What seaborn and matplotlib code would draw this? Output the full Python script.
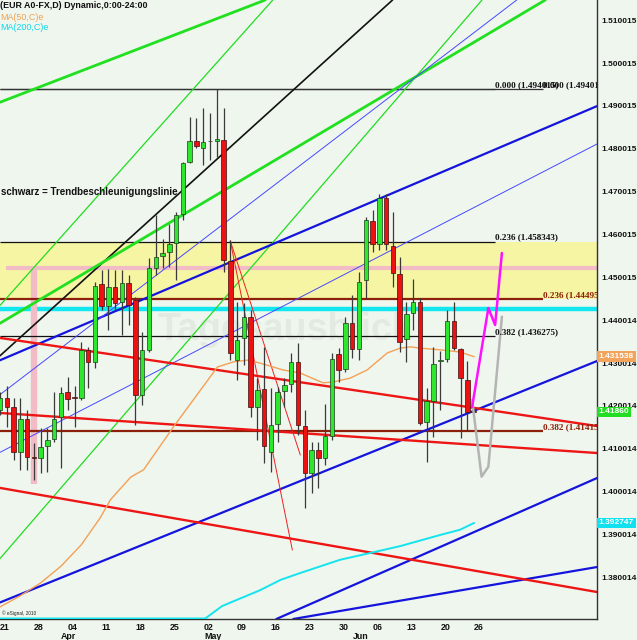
import numpy as np
import matplotlib
matplotlib.use("Agg")
import matplotlib.pyplot as plt
import matplotlib.transforms as mtransforms
import seaborn as sns

sns.set_theme(style="white")
plt.rcParams["font.family"] = ["Liberation Sans", "DejaVu Sans"]

BG = "#eff6ee"

# daily candles, index 0 = Mon 21 Mar
opens = [1.41906, 1.42186, 1.41976, 1.40925, 1.41695, 1.40808, 1.40785, 1.41065, 1.41228, 1.41742,
         1.42326, 1.42209, 1.42186, 1.43306, 1.43026, 1.44847, 1.44333, 1.44777, 1.44426, 1.44870,
         1.44473, 1.42256, 1.43306, 1.45220, 1.45500, 1.45593, 1.45803, 1.46480, 1.47694, 1.48184,
         1.48021, 1.48184, 1.48184, 1.48207, 1.45383, 1.43073, 1.43586, 1.44077, 1.41976, 1.42396,
         1.40925, 1.41579, 1.42349, 1.42513, 1.43026, 1.41532, 1.40435, 1.40972, 1.40785, 1.41298,
         1.43213, 1.42863, 1.43936, 1.43329, 1.44940, 1.46317, 1.45780, 1.46854, 1.45733, 1.45080,
         1.43563, 1.44170, 1.44426, 1.41625, 1.42116, 1.43049, 1.43096, 1.43983, 1.43329, 1.42606,
         1.41882]
highs = [1.42326, 1.42466, 1.42186, 1.42186, 1.41906, 1.41135, 1.41485, 1.41485, 1.42326, 1.42442,
         1.42676, 1.42466, 1.43492, 1.43376, 1.44893, 1.45173, 1.45196, 1.45173, 1.45173, 1.45057,
         1.44543, 1.43726, 1.45453, 1.46457, 1.45897, 1.46247, 1.46527, 1.47694, 1.48744, 1.48721,
         1.48954, 1.48838, 1.49400, 1.48954, 1.45873, 1.44426, 1.44403, 1.44240, 1.42653, 1.43376,
         1.42419, 1.42442, 1.42653, 1.43236, 1.43469, 1.41906, 1.41158, 1.41158, 1.42046, 1.43236,
         1.43353, 1.44077, 1.44590, 1.45127, 1.46410, 1.46574, 1.46947, 1.46947, 1.46527, 1.45477,
         1.44426, 1.44963, 1.44520, 1.42419, 1.43376, 1.43283, 1.44240, 1.44426, 1.43353, 1.43049,
         1.41952]
lows = [1.41789, 1.41509, 1.40739, 1.40505, 1.40505, 1.40272, 1.40435, 1.40458, 1.41158, 1.40552,
        1.41906, 1.41509, 1.42139, 1.42419, 1.42886, 1.44240, 1.43773, 1.44240, 1.43656, 1.43890,
        1.41555, 1.42022, 1.43259, 1.45057, 1.45220, 1.45243, 1.44940, 1.46340, 1.47671, 1.48021,
        1.47624, 1.47741, 1.47811, 1.45127, 1.43073, 1.42606, 1.42956, 1.41742, 1.41205, 1.40669,
        1.40458, 1.41158, 1.41976, 1.42326, 1.41322, 1.39618, 1.39968, 1.40085, 1.40622, 1.41205,
        1.42559, 1.42793, 1.43119, 1.43073, 1.44520, 1.45593, 1.45640, 1.45640, 1.44777, 1.43259,
        1.43026, 1.43773, 1.41555, 1.40692, 1.41275, 1.41906, 1.43026, 1.43306, 1.41252, 1.41415,
        1.41859]
closes = [1.42186, 1.41976, 1.40925, 1.41695, 1.40808, 1.40785, 1.41042, 1.41205, 1.41695, 1.42302,
          1.42162, 1.42186, 1.43306, 1.43026, 1.44800, 1.44333, 1.44777, 1.44403, 1.44870, 1.44356,
          1.42256, 1.43306, 1.45220, 1.45477, 1.45570, 1.45780, 1.46457, 1.47671, 1.48184, 1.48067,
          1.48161, 1.48190, 1.48231, 1.45407, 1.43236, 1.43539, 1.44077, 1.41976, 1.42372, 1.41065,
          1.41555, 1.42326, 1.42489, 1.43026, 1.41555, 1.40435, 1.40972, 1.40785, 1.41298, 1.43096,
          1.42839, 1.43936, 1.43329, 1.44893, 1.46340, 1.45780, 1.46854, 1.45780, 1.45103, 1.43492,
          1.44147, 1.44426, 1.41602, 1.42116, 1.42979, 1.43073, 1.43983, 1.43353, 1.42653, 1.41859,
          1.41860]

# moving averages (bar position, value)
ma50_x = [0, 3, 6, 9, 12, 14.8, 16.3, 19.3, 21.2, 25.6, 29.6, 32.1, 34.5, 36.5, 38.4, 41.8, 44.3,
          47.7, 49.2, 51.7, 54.2, 57.2, 59.1, 60.6, 62.0, 65.0, 67.9, 70.0]
ma50_y = [1.3731, 1.3757, 1.3787, 1.3826, 1.3876, 1.3939, 1.3981, 1.4034, 1.4051, 1.4151, 1.4237,
          1.4291, 1.4303, 1.4307, 1.4300, 1.4284, 1.4277, 1.4254, 1.4256, 1.4265, 1.4284, 1.4324,
          1.4335, 1.4338, 1.4335, 1.4331, 1.4326, 1.4315]
ma200_x = [0, 30.3, 32.8, 34.9, 38.4, 41.4, 44.3, 50.2, 54.7, 59.1, 65.0, 67.9, 70.0]
ma200_y = [1.3704, 1.3704, 1.3733, 1.3747, 1.3770, 1.3794, 1.3810, 1.3841, 1.3857, 1.3873, 1.3899,
           1.3911, 1.3927]

# forecast sketches
up_path_x = [69.7, 72.1, 73.1, 74.1]
up_path_y = [1.41976, 1.44286, 1.43890, 1.45570]
down_path_x = [69.7, 71.1, 72.1, 74.1]
down_path_y = [1.42139, 1.40349, 1.40582, 1.44083]

# trend lines, two points each (bar, price)
black_trend = [(7.46, 1.44240), (43.30, 1.49375)]
green_thin = [[(5.99, 1.45407), (28.41, 1.49375)],
              [(7.46, 1.39805), (35.49, 1.44940)]]
green_thick = [[(0.09, 1.49094), (29.59, 1.50892)],
               [(66.8, 1.50191), (80.5, 1.51475)]]
blue_thick = [[(0.09, 1.43073), (88.14, 1.48999)],
              [(37.4, 1.39805), (88.14, 1.43049)],
              [(40.8, 1.37028), (88.14, 1.40318)],
              [(43.30, 1.37028), (88.14, 1.38241)]]
blue_thin = [[(0.09, 1.40925), (88.14, 1.48114)],
             [(21.77, 1.44893), (47.29, 1.47974)]]
red_thick = [[(0.09, 1.43586), (88.14, 1.41532)],
             [(0.09, 1.41836), (88.14, 1.40902)],
             [(0.09, 1.40085), (88.14, 1.37658)]]
red_thin = [[(34.0, 1.45850), (43.16, 1.38638)],
            [(34.0, 1.45850), (44.34, 1.40855)]]

# fibonacci retracements
black_fib = [1.494015, 1.458343, 1.436275]
black_fib_txt = ["0.000 (1.494015)", "0.236 (1.458343)", "0.382 (1.436275)"]
brown_fib = [1.494015, 1.44495, 1.41415]
brown_fib_txt = ["0.000 (1.494015)", "0.236 (1.444950)", "0.382 (1.414150)"]

pink_level = 1.45220
cyan_level = 1.44263

date_labels = ["21", "28", "04", "11", "18", "25", "02", "09", "16", "23", "30", "06", "13", "20", "26"]
month_labels = ["Apr", "May", "Jun"]
month_pos = [10.1, 31.4, 53.2]

axis_levels = [1.510015, 1.500015, 1.490015, 1.480015, 1.470015, 1.460015, 1.450015,
               1.440014, 1.430014, 1.420014, 1.410014, 1.400014, 1.390014, 1.380014]
axis_labels = ["%.6f" % v for v in axis_levels]
tag_values = [1.431538, 1.41860, 1.392747]
tag_text = ["1.431538", "1.41860", "1.392747"]
tag_colors = ["#f2a35c", "#22dd22", "#11e0ee"]

fig = plt.figure(figsize=(6.37, 6.40), dpi=100, facecolor=BG)
ax = fig.add_axes([0, 21 / 640, 597 / 637, 619 / 640], facecolor=BG)
ax.set_xlim(0.09, 88.14)
ax.set_ylim(1.37028, 1.51475)

# background zones
ax.axhspan(brown_fib[1], black_fib[1], color="#f6f5a4", zorder=0, lw=0)
ax.text(42.1, 1.4377, "Tagesausblick", fontsize=27, weight="bold", color="#e2eae1",
        ha="center", va="center", zorder=0.5)
ax.axhline(cyan_level, color="#12e6ee", lw=3.2, zorder=1)
ax.hlines(pink_level, 0.83, 88.14, color="#f1bcc6", lw=3, zorder=1)
ax.vlines(5.03, 1.40178, pink_level, color="#f1bcc6", lw=4.6, zorder=1)

# fib lines
ax.hlines(black_fib, 0, 73.1, color="#111111", lw=0.9, zorder=2)
ax.hlines(brown_fib[1:], 0, 80.2, color="#8c2008", lw=1.6, zorder=2)
ax.hlines(brown_fib[0], 0, 80.2, color="#333333", lw=0.9, zorder=2)

# trend lines
ax.axline(*black_trend, color="#111111", lw=1.2, zorder=2)
for p in green_thin:
    ax.axline(*p, color="#20dd20", lw=0.9, zorder=2)
for p in green_thick:
    ax.axline(*p, color="#20e020", lw=2.0, zorder=2)
for p in blue_thick:
    ax.axline(*p, color="#1414dd", lw=1.6, zorder=2)
for p in blue_thin:
    ax.axline(*p, color="#4848ff", lw=0.7, zorder=2)
for p in red_thick:
    ax.axline(*p, color="#ee1515", lw=1.7, zorder=2)
for p in red_thin:
    ax.plot([p[0][0], p[1][0]], [p[0][1], p[1][1]], color="#ee2020", lw=0.7, zorder=2)

# moving averages
sns.lineplot(x=ma50_x, y=ma50_y, ax=ax, color="#f4a055", lw=1.0, zorder=3)
sns.lineplot(x=ma200_x, y=ma200_y, ax=ax, color="#14e4ee", lw=1.4, zorder=3)

# candles
o = np.array(opens)
h = np.array(highs)
l = np.array(lows)
c = np.array(closes)
idx = np.arange(len(o))
up = c >= o
ax.vlines(idx, l, h, color="#3a3a3a", lw=0.9, zorder=5)
ax.bar(idx[up], np.maximum(c - o, 0.00008)[up], bottom=o[up], width=0.66,
       color="#2ee62e", edgecolor="#1d3a1d", lw=0.5, zorder=6)
ax.bar(idx[~up], np.maximum(o - c, 0.00008)[~up], bottom=c[~up], width=0.66,
       color="#ee1111", edgecolor="#3a1010", lw=0.5, zorder=6)

# forecast paths
sns.lineplot(x=down_path_x, y=down_path_y, ax=ax, color="#b4b4b4", lw=1.8, zorder=7)
sns.lineplot(x=up_path_x, y=up_path_y, ax=ax, color="#ff10ff", lw=1.8, zorder=7)

# fib labels
serif = ["Liberation Serif", "DejaVu Serif"]
for lev, txt in zip(black_fib, black_fib_txt):
    ax.text(73.1, lev, txt, fontsize=6.6, weight="bold", family=serif, color="#111111",
            ha="left", va="bottom", zorder=8, clip_on=True)
for i, (lev, txt) in enumerate(zip(brown_fib, brown_fib_txt)):
    col = "#111111" if i == 0 else "#8c2008"
    ax.text(80.2, lev, txt, fontsize=6.6, weight="bold", family=serif, color=col,
            ha="left", va="bottom", zorder=8, clip_on=True)

ax.text(0.2, 1.4700, "schwarz = Trendbeschleunigungslinie", fontsize=7, weight="bold",
        color="#111111", ha="left", va="center", zorder=8)

# axes styling
for s in ["top", "left"]:
    ax.spines[s].set_visible(False)
for s in ["right", "bottom"]:
    ax.spines[s].set_color("#333333")
    ax.spines[s].set_linewidth(1.0)
ax.yaxis.tick_right()
ax.set_yticks(axis_levels, axis_labels)
ax.tick_params(axis="y", length=0, pad=3, labelsize=6.0, labelcolor="#111111")
for t in ax.get_yticklabels():
    t.set_fontweight("bold")
ax.set_xticks(np.arange(0, 71, 5), date_labels)
ax.tick_params(axis="x", length=0, pad=3, labelsize=6.4, labelcolor="#111111")
for t in ax.get_xticklabels():
    t.set_fontweight("bold")
    t.set_ha("left")
ax.set_xlabel("")
ax.set_ylabel("")
ax.grid(False)

trans = mtransforms.blended_transform_factory(ax.transData, ax.transAxes)
for m, x in zip(month_labels, month_pos):
    ax.text(x, -0.0275, m, transform=trans, fontsize=6.4, weight="bold", color="#111111",
            ha="center", va="center", clip_on=False)

ytrans = mtransforms.blended_transform_factory(ax.transAxes, ax.transData)
for v, t, col in zip(tag_values, tag_text, tag_colors):
    ax.text(1.003, v, t, transform=ytrans, fontsize=6.0, weight="bold", color="white",
            ha="left", va="center", zorder=10, clip_on=False,
            bbox=dict(boxstyle="square,pad=0.2", fc=col, ec="none"))

# header
fig.text(0.0, 1 - 6 / 640, "(EUR A0-FX,D) Dynamic,0:00-24:00", fontsize=6.4, weight="bold",
         color="#111111", ha="left", va="center")
fig.text(0.0, 1 - 17 / 640, "MA(50,C)e", fontsize=6.4, color="#f0a050", ha="left", va="center")
fig.text(0.0, 1 - 28 / 640, "MA(200,C)e", fontsize=6.4, color="#10d8e8", ha="left", va="center")
fig.text(2 / 637, 27 / 640, "\u00a9 eSignal, 2010", fontsize=3.4, color="#222222",
         ha="left", va="center")

fig.savefig("out.png", dpi=100, facecolor=BG)
